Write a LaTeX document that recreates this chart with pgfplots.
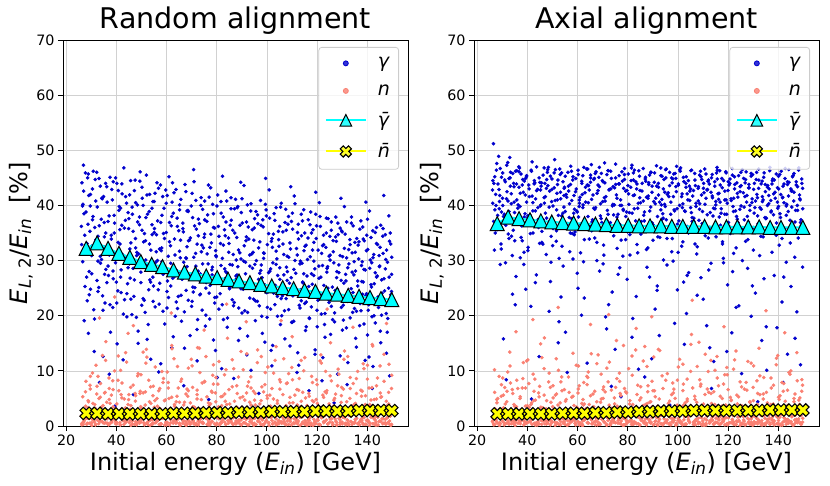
\documentclass[border=0pt]{standalone}
\usepackage{pgfplots}
\pgfplotsset{compat=1.18}
\usepackage{pgfplotstable}
\usepackage{fontspec}
\setmainfont{DejaVu Sans}
\definecolor{gblue}{HTML}{0000CD}
\definecolor{nsalmon}{HTML}{FA8072}
\definecolor{tcyan}{HTML}{00FFFF}
\definecolor{xyellow}{HTML}{FFFF00}

\pgfdeclareplotmark{mtri}{%
 \pgfpathmoveto{\pgfqpoint{0pt}{\pgfplotmarksize}}%
 \pgfpathlineto{\pgfqpoint{-\pgfplotmarksize}{-\pgfplotmarksize}}%
 \pgfpathlineto{\pgfqpoint{\pgfplotmarksize}{-\pgfplotmarksize}}%
 \pgfpathclose\pgfusepathqfillstroke}
\pgfdeclareplotmark{mX}{%
 \pgfpathmoveto{\pgfqpoint{0pt}{0.509\pgfplotmarksize}}%
 \pgfpathlineto{\pgfqpoint{-0.4525\pgfplotmarksize}{0.9617\pgfplotmarksize}}%
 \pgfpathlineto{\pgfqpoint{-0.9617\pgfplotmarksize}{0.4525\pgfplotmarksize}}%
 \pgfpathlineto{\pgfqpoint{-0.509\pgfplotmarksize}{0pt}}%
 \pgfpathlineto{\pgfqpoint{-0.9617\pgfplotmarksize}{-0.4525\pgfplotmarksize}}%
 \pgfpathlineto{\pgfqpoint{-0.4525\pgfplotmarksize}{-0.9617\pgfplotmarksize}}%
 \pgfpathlineto{\pgfqpoint{0pt}{-0.509\pgfplotmarksize}}%
 \pgfpathlineto{\pgfqpoint{0.4525\pgfplotmarksize}{-0.9617\pgfplotmarksize}}%
 \pgfpathlineto{\pgfqpoint{0.9617\pgfplotmarksize}{-0.4525\pgfplotmarksize}}%
 \pgfpathlineto{\pgfqpoint{0.509\pgfplotmarksize}{0pt}}%
 \pgfpathlineto{\pgfqpoint{0.9617\pgfplotmarksize}{0.4525\pgfplotmarksize}}%
 \pgfpathlineto{\pgfqpoint{0.4525\pgfplotmarksize}{0.9617\pgfplotmarksize}}%
 \pgfpathclose\pgfusepathqfillstroke}

\pgfplotstableread{
x gL gR nL nR
26.3 44.1 44.5 0.2 1.0
27.1 38.5 39.2 0.9 0.3
27.8 31.2 47.6 3.6 4.8
28.4 22.7 36.1 0.5 1.7
29.0 41.8 41.8 1.4 0.6
29.5 35.3 33.0 7.4 2.6
30.2 27.6 45.9 0.1 8.7
30.8 46.2 38.4 2.3 0.2
31.3 19.4 29.6 0.7 1.3
31.9 33.8 42.5 11.0 6.3
32.4 39.7 34.8 1.1 0.9
33.0 25.1 48.7 0.4 13.4
33.6 43.5 40.3 5.2 0.4
34.1 30.2 23.9 1.8 2.0
34.7 12.6 43.4 0.6 3.9
35.2 36.9 37.2 2.9 0.7
35.8 28.4 46.3 15.3 1.5
26.9 47.3 31.9 0.3 10.2
28.9 16.8 40.7 4.4 0.1
30.5 37.4 15.8 1.2 5.6
32.7 29.9 44.9 9.0 2.4
34.4 41.2 35.5 0.8 0.8
35.5 22.3 27.1 6.1 17.1
27.4 34.6 42.0 2.1 1.2
29.7 24.8 38.8 0.5 3.0
31.6 44.7 8.4 3.2 0.5
33.3 7.9 46.0 19.6 7.8
35.0 32.5 33.6 1.6 2.2
26.5 39.9 51.2 0.6 0.4
28.6 45.0 48.9 2.7 1.9
36.3 40.6 40.1 1.3 0.5
36.9 27.3 46.8 0.2 2.8
37.5 45.1 34.2 4.1 0.9
38.0 33.9 43.7 0.8 6.9
38.6 21.5 29.3 8.2 0.2
39.1 38.2 38.5 1.9 1.6
39.7 29.6 45.2 0.4 11.8
40.3 14.9 32.4 2.6 0.7
40.8 42.7 41.6 12.7 3.4
41.4 35.6 21.7 0.6 1.1
41.9 24.2 47.9 5.7 0.3
42.5 31.1 36.9 1.0 4.6
43.0 46.8 44.1 0.3 8.5
43.6 37.3 27.4 3.3 0.6
44.2 19.8 39.6 0.9 2.1
44.7 28.7 12.6 16.8 0.4
45.3 41.9 42.8 1.5 14.9
45.8 33.2 35.3 0.1 1.8
37.2 9.4 30.5 6.8 5.3
38.8 44.3 44.4 2.2 0.8
40.0 26.1 37.7 0.7 3.7
41.7 39.5 4.9 10.1 1.4
43.3 22.9 41.2 1.2 0.1
44.9 35.8 33.1 4.8 7.2
36.6 31.7 47.0 0.5 2.5
39.4 3.6 24.8 23.4 0.6
42.2 43.9 39.0 1.7 19.3
45.5 26.8 43.5 3.0 1.0
46.4 38.4 37.4 0.4 1.2
47.0 23.5 44.0 1.6 0.4
47.5 44.6 31.1 5.9 3.1
48.1 30.9 46.5 0.2 0.9
48.7 17.2 39.7 2.7 9.6
49.2 36.5 26.2 0.9 0.2
49.8 27.9 42.9 9.3 2.3
50.3 41.3 35.8 1.3 5.1
50.9 33.4 48.3 0.6 0.7
51.5 20.6 33.5 3.8 12.2
52.0 45.5 41.0 13.9 1.5
52.6 29.3 18.9 0.3 0.3
53.1 38.9 45.6 2.0 4.2
53.7 12.1 38.1 7.1 1.9
54.3 34.7 29.0 1.1 0.5
54.8 25.4 43.3 0.5 6.6
55.4 42.2 36.6 4.6 2.7
55.9 31.6 9.7 1.8 0.1
46.8 5.7 40.4 18.2 16.0
48.4 40.1 46.9 0.7 1.1
50.1 21.9 32.7 2.4 3.5
51.8 37.8 42.2 11.4 0.6
53.4 26.5 23.4 0.1 8.0
55.1 35.1 38.9 3.4 1.3
47.7 32.3 44.7 0.8 0.4
49.5 46.1 34.4 6.3 2.0
52.3 15.7 15.1 1.5 21.5
54.6 40.7 41.8 0.4 0.8
56.5 37.2 42.6 1.0 0.3
57.1 22.1 35.0 0.3 2.2
57.6 43.7 46.2 3.1 0.8
58.2 29.8 30.3 1.4 5.4
58.8 34.9 39.3 8.6 1.0
59.3 18.5 44.9 0.2 0.2
59.9 40.4 27.7 2.1 3.3
60.4 26.3 37.9 0.6 10.9
61.0 45.2 41.5 5.0 0.6
61.6 32.7 20.1 1.2 1.7
62.1 14.2 45.4 14.6 0.1
62.7 38.6 33.8 0.5 4.0
63.2 27.1 40.6 3.9 1.4
63.8 42.9 11.4 0.9 7.5
64.4 21.3 43.6 10.8 0.5
64.9 35.4 36.3 1.7 2.9
65.5 30.5 47.4 0.1 13.1
56.9 9.8 31.6 6.4 0.9
58.5 41.6 38.6 2.5 1.8
60.2 24.4 25.0 0.7 6.0
61.9 36.3 42.0 20.5 0.3
63.5 19.9 2.7 1.3 2.6
65.2 39.2 44.2 4.3 18.4
57.9 31.8 34.9 0.4 1.2
60.7 2.4 39.8 7.9 0.4
62.4 44.1 29.8 1.9 3.8
64.1 28.2 46.6 0.6 8.8
65.8 23.7 37.0 2.8 1.6
66.5 36.8 39.5 0.5 0.7
67.1 20.7 45.8 2.2 0.2
67.7 42.5 33.3 0.8 4.4
68.2 28.9 42.7 6.7 1.3
68.8 33.6 28.1 1.0 0.5
69.4 16.4 37.6 0.3 9.4
69.9 39.9 44.5 12.1 2.0
70.5 25.2 31.0 3.5 0.8
71.0 44.3 40.8 0.6 6.2
71.6 31.3 17.6 1.6 0.1
72.2 11.8 46.3 4.9 1.9
72.7 37.5 35.7 0.2 11.6
73.3 23.8 43.0 9.7 0.4
73.8 41.4 24.3 1.4 3.2
74.4 29.4 38.3 0.7 1.1
75.0 34.2 13.9 17.4 0.6
75.5 18.1 41.9 2.6 15.5
66.9 7.3 34.1 0.9 2.8
68.5 39.1 45.1 5.4 0.3
70.2 22.6 29.4 1.1 5.0
71.9 35.7 39.1 0.4 1.5
73.5 27.6 7.2 3.0 0.9
75.2 40.8 43.8 8.1 7.0
67.9 30.4 36.4 0.1 0.2
70.8 46.5 47.7 1.8 2.4
72.4 19.3 22.0 14.2 20.2
74.1 32.8 40.2 0.6 1.0
75.8 26.0 32.2 2.3 3.6
76.4 38.3 43.9 1.2 1.4
77.0 24.1 36.5 0.4 0.5
77.6 43.2 40.0 4.0 2.9
78.1 28.3 30.8 0.8 0.1
78.7 15.6 45.6 7.6 6.8
79.2 35.9 38.0 1.5 1.2
79.8 30.7 26.6 0.2 0.6
80.4 41.9 42.1 2.9 10.4
80.9 21.2 34.7 11.7 1.7
81.5 33.1 46.8 0.6 0.3
82.0 10.4 19.5 3.7 3.9
82.6 37.9 39.4 1.3 0.8
83.2 26.7 44.3 5.8 13.8
83.7 42.6 32.9 0.3 2.1
84.3 19.6 10.3 15.9 0.4
84.8 31.5 41.4 1.0 4.7
85.4 36.4 37.1 2.4 1.0
76.8 4.8 28.7 0.7 8.1
78.4 40.2 43.1 9.2 0.2
80.0 23.4 35.2 1.9 2.5
81.7 29.1 47.3 0.5 0.7
83.4 34.5 23.5 4.5 17.7
85.1 24.9 40.5 1.1 1.3
77.3 32.4 5.3 0.2 5.5
79.5 13.7 38.8 6.0 0.9
82.3 45.3 44.6 2.0 0.3
84.0 27.8 31.4 22.1 3.0
85.7 39.4 36.0 0.9 1.8
86.4 35.5 38.2 0.3 0.6
87.0 22.4 44.8 1.7 2.3
87.5 41.1 32.0 0.6 0.2
88.1 27.4 41.3 3.4 7.3
88.7 31.9 27.0 8.9 1.1
89.2 17.7 46.0 1.1 0.5
89.8 38.7 36.8 0.2 3.5
90.4 25.6 40.7 5.3 12.5
90.9 43.6 21.2 1.4 0.8
91.5 29.7 43.5 0.5 1.6
92.0 12.9 34.3 13.1 0.1
92.6 36.1 16.4 2.5 4.9
93.2 23.2 39.2 0.8 1.9
93.7 40.3 45.3 6.9 9.1
94.3 28.6 30.1 1.6 0.4
94.8 33.7 42.4 0.1 2.7
95.4 19.1 37.4 3.8 0.9
86.8 8.6 8.9 10.4 14.4
88.4 39.8 44.1 0.7 1.2
90.1 20.5 33.7 2.2 6.4
91.8 34.3 25.4 18.9 0.3
93.4 26.2 40.1 1.2 2.0
95.1 37.6 46.5 4.7 0.7
87.8 30.1 35.9 0.4 4.1
89.6 44.2 12.2 1.9 19.8
92.3 16.3 41.9 7.2 1.4
94.0 31.2 38.5 0.6 0.2
95.7 24.6 29.2 2.7 3.1
96.4 36.7 41.6 0.9 0.4
97.0 21.8 35.3 2.8 1.5
97.5 40.9 45.0 0.3 5.7
98.1 26.9 29.9 1.2 0.7
98.7 31.4 39.0 6.2 2.2
99.2 15.2 43.4 0.5 0.1
99.8 38.1 24.7 1.6 8.3
100.4 24.3 37.2 10.7 1.2
100.9 42.8 46.2 0.1 0.6
101.5 28.5 32.6 3.6 3.4
102.0 10.9 40.3 1.0 11.2
102.6 34.8 14.8 4.9 0.3
103.2 22.0 44.0 0.7 1.8
103.7 39.6 36.2 14.4 4.5
104.3 27.3 27.8 2.0 0.9
104.8 32.6 42.6 0.4 2.6
105.4 18.4 38.7 8.0 16.6
96.8 5.9 3.8 1.4 0.5
98.4 37.4 45.7 0.2 6.7
100.1 19.7 31.5 5.5 1.0
101.8 33.5 39.6 1.8 0.2
103.4 25.5 20.4 0.6 2.9
105.1 36.2 43.0 3.1 9.9
97.8 29.2 34.0 12.6 1.3
99.5 44.9 47.1 0.8 0.4
102.3 14.6 26.1 2.3 3.8
104.0 30.3 41.0 0.3 1.7
105.7 23.1 37.8 19.1 22.8
106.4 35.2 37.7 1.5 0.8
107.0 20.9 43.6 0.4 0.2
107.5 39.3 31.2 3.3 4.3
108.1 26.4 40.8 0.9 1.4
108.7 30.6 45.5 9.5 0.6
109.2 14.5 26.9 1.1 7.6
109.8 37.1 38.9 0.2 2.4
110.4 23.6 42.3 4.2 0.1
110.9 41.7 34.5 1.3 13.0
111.5 27.7 18.2 0.6 1.1
112.0 9.7 44.4 6.6 3.0
112.6 33.9 36.0 2.4 0.5
113.2 21.4 29.5 0.1 5.9
113.7 38.4 41.7 11.9 1.6
114.3 26.1 11.7 1.7 0.3
114.8 31.8 39.4 0.5 10.1
115.4 17.3 45.9 5.1 2.0
106.8 3.1 33.0 0.8 0.9
108.4 36.6 37.3 2.6 15.2
110.1 18.8 23.0 16.2 0.4
111.8 32.2 42.9 1.0 3.3
113.4 24.7 6.8 3.5 1.2
115.1 35.0 40.1 0.3 0.7
107.8 28.8 35.6 7.7 2.8
109.5 43.4 44.7 1.4 0.2
112.3 13.3 28.3 0.7 6.1
114.0 29.5 38.1 2.9 1.8
115.7 22.5 46.4 0.2 8.7
116.4 34.1 42.2 0.6 1.1
117.0 19.5 36.4 2.1 0.4
117.5 38.8 44.9 0.2 3.6
118.1 25.7 30.4 4.6 0.8
118.7 29.9 38.4 1.2 9.3
119.2 13.8 41.0 0.5 1.5
119.8 36.3 25.6 8.4 0.2
120.4 22.8 43.7 1.7 2.3
120.9 40.5 34.9 0.3 5.2
121.5 27.0 16.9 12.9 0.6
122.0 8.2 39.8 3.0 1.9
122.6 32.9 45.2 0.8 12.0
123.2 20.4 32.3 1.9 0.3
123.7 37.7 37.5 6.0 4.0
124.3 25.0 21.8 0.4 1.0
124.8 30.8 42.5 2.5 0.1
125.4 16.6 9.5 15.1 7.1
116.8 6.4 40.6 1.0 1.7
118.4 35.6 35.1 0.1 18.0
120.1 18.0 44.3 4.1 0.5
121.8 31.3 28.0 1.5 2.8
123.4 23.9 38.0 9.9 0.9
125.1 34.4 46.0 0.7 3.7
117.8 27.6 33.4 2.2 1.3
119.5 42.4 13.5 0.4 10.6
122.3 12.4 41.3 5.6 0.7
124.0 28.6 36.9 21.2 2.2
125.7 21.7 30.0 1.3 0.4
126.4 33.6 39.7 0.3 0.9
126.8 4.2 44.1 1.8 2.5
127.0 18.9 33.5 5.0 0.2
127.5 37.9 41.8 0.9 6.5
127.8 26.9 28.6 0.1 1.4
128.1 24.8 37.0 3.2 0.6
128.4 34.7 43.2 10.3 3.1
128.7 29.2 35.4 1.4 0.3
129.2 12.7 19.9 0.6 11.4
129.5 41.3 40.5 2.7 1.6
129.8 35.4 45.6 7.0 0.1
130.1 17.4 31.9 0.4 4.6
130.4 21.9 38.6 1.6 0.8
130.9 39.8 24.1 13.6 2.0
131.5 26.3 42.0 0.2 8.2
131.8 30.5 4.4 4.4 0.4
132.0 7.5 36.7 1.1 1.2
132.3 11.5 44.6 0.5 14.1
132.6 32.0 30.9 2.3 0.7
133.2 19.6 39.3 8.8 3.4
133.4 23.0 15.5 0.8 1.0
133.7 36.8 41.6 1.9 0.2
134.0 27.9 34.3 0.3 5.8
134.3 24.2 26.7 17.9 1.9
134.8 29.8 43.8 3.6 0.5
135.1 33.3 37.6 0.7 20.9
135.4 15.9 10.1 1.2 2.7
135.7 20.8 40.0 5.9 0.9
136.4 32.8 43.0 0.5 1.3
136.8 2.9 36.2 2.4 0.3
137.0 18.2 40.9 0.2 3.9
137.5 37.2 31.5 6.5 1.1
137.8 26.2 44.8 1.0 0.6
138.1 23.9 38.3 0.6 7.4
138.4 33.9 27.3 11.3 0.2
138.7 28.4 42.4 1.5 2.4
139.2 11.9 34.6 3.9 1.8
139.5 40.6 17.8 0.3 0.4
139.8 34.6 39.5 2.0 12.8
140.1 16.5 45.3 8.5 1.0
140.4 21.0 32.8 0.9 4.8
140.9 39.0 37.8 0.1 0.1
141.5 25.6 22.5 4.7 2.1
141.8 29.6 41.5 1.7 0.7
142.0 6.8 7.9 14.8 6.3
142.3 10.8 43.9 0.4 1.5
142.6 31.1 35.8 2.6 16.9
143.2 18.7 29.7 1.1 0.3
143.4 22.1 40.2 0.7 3.2
143.7 36.0 13.0 7.3 1.2
144.0 27.2 38.9 1.9 0.5
144.3 23.4 44.2 0.2 9.7
144.8 28.9 33.2 3.4 2.6
145.1 32.4 25.3 10.9 0.8
145.4 15.1 42.7 0.8 1.7
145.7 20.1 36.5 5.3 0.2
146.3 35.8 45.8 1.3 4.4
146.6 41.8 30.6 0.5 1.1
146.9 24.5 39.1 2.9 0.6
147.4 30.2 20.7 0.3 13.3
147.7 13.2 43.4 18.6 2.3
148.0 17.0 34.1 1.6 0.9
148.6 38.1 41.2 4.0 5.1
148.9 9.1 11.1 0.9 0.4
149.1 22.7 37.4 2.2 1.9
149.4 33.0 44.0 0.1 8.4
149.7 27.5 28.8 6.8 0.7
}\scatterdata

\pgfplotstableread{
x gL gR nL nR
26.1 36.2 42.8 1.9 0.8
26.6 29.8 37.1 5.3 2.9
27.0 42.6 45.2 0.7 6.1
27.5 25.3 40.0 3.0 1.1
27.9 38.8 35.6 8.1 4.2
28.3 33.1 43.9 1.4 0.5
28.8 45.7 39.4 4.6 9.0
29.2 28.0 46.7 0.5 2.0
29.6 39.9 32.1 6.7 5.4
30.1 32.6 41.3 2.4 0.9
30.5 43.0 38.0 9.6 3.3
31.0 21.1 44.6 1.0 7.0
31.4 36.0 36.4 3.9 1.6
31.8 40.8 47.3 0.3 4.4
32.3 26.4 40.8 7.2 0.6
32.7 34.4 34.0 2.0 2.7
33.1 44.9 45.0 5.0 10.9
33.6 30.8 42.1 0.9 1.3
34.0 37.5 30.9 3.4 6.6
34.5 23.6 44.0 12.8 0.4
34.9 41.6 38.7 1.5 3.6
35.3 27.5 46.2 6.0 1.0
35.8 35.0 41.0 0.6 8.3
36.2 43.4 36.8 4.3 2.3
36.7 29.0 43.3 2.5 0.7
37.1 38.1 39.8 8.7 5.0
37.5 22.0 45.7 0.4 1.8
38.0 34.6 33.6 5.6 3.0
38.4 41.0 42.4 1.2 11.5
38.8 26.7 37.9 3.5 0.3
39.3 36.8 44.9 10.0 6.9
39.7 31.4 40.6 0.8 1.4
40.2 44.0 31.8 4.0 2.5
40.6 24.5 43.7 1.7 7.7
41.0 39.1 38.3 6.4 0.8
41.5 33.0 46.4 0.2 3.9
41.9 28.3 41.7 2.9 1.2
42.3 42.1 35.0 7.8 9.4
42.8 20.3 44.5 1.3 0.5
43.2 35.9 39.0 4.9 4.7
43.7 30.2 47.0 0.6 2.1
44.1 40.4 42.9 11.6 0.2
44.5 25.8 36.0 2.3 6.0
45.0 37.6 44.2 5.7 1.5
45.4 32.1 40.1 1.1 3.4
45.8 23.0 33.3 3.7 12.4
46.3 39.7 45.5 0.9 0.9
46.7 28.6 41.4 7.4 5.6
47.2 42.7 38.6 1.6 1.9
47.6 34.0 43.1 4.5 0.4
48.0 19.7 46.0 0.4 2.8
48.5 37.0 37.0 9.1 8.0
48.9 31.2 42.6 2.2 1.1
49.4 44.4 29.7 5.9 4.3
49.8 26.0 44.8 0.7 0.6
50.2 35.5 39.9 3.2 7.3
50.7 40.0 45.9 13.4 2.4
51.1 22.8 40.9 1.4 0.1
51.6 33.6 35.4 6.2 5.8
52.0 29.1 43.8 0.5 1.7
52.4 38.4 38.2 2.8 10.1
52.9 24.7 46.6 8.3 3.1
53.3 42.0 41.2 1.0 0.8
53.8 31.9 32.6 4.1 6.4
54.2 36.5 44.3 0.3 1.3
54.6 27.0 39.7 5.5 2.6
55.1 40.7 45.3 2.1 0.3
55.5 21.6 42.0 10.7 4.8
56.0 34.7 36.7 0.8 1.0
56.4 30.0 43.5 3.6 8.9
56.8 43.1 40.3 1.2 2.2
57.3 25.9 47.1 6.8 0.7
57.7 36.9 37.6 0.4 5.2
58.1 32.3 44.6 2.6 1.4
58.6 20.8 41.8 7.9 3.7
59.0 39.5 35.2 1.5 0.5
59.5 28.4 43.0 4.7 11.0
59.9 35.1 38.8 0.2 1.6
60.3 41.8 45.6 9.8 6.7
60.8 23.3 40.4 1.8 0.2
61.2 33.4 31.4 3.1 2.9
61.7 29.5 44.0 0.6 4.1
62.1 38.0 39.6 5.2 0.9
62.5 26.8 46.9 2.0 7.9
63.0 42.3 42.3 12.2 1.2
63.4 31.0 36.1 0.9 3.2
63.9 22.5 43.7 4.4 0.6
64.3 36.2 40.5 1.3 9.8
64.7 27.9 33.9 6.9 2.0
65.2 40.1 45.0 0.5 5.5
65.6 33.7 41.1 2.7 1.1
66.0 19.0 37.4 8.5 0.4
66.5 35.8 44.7 1.1 3.5
66.9 29.7 39.3 3.8 6.3
67.4 43.8 46.1 0.3 1.5
67.8 24.6 42.2 5.8 0.8
68.2 32.5 35.8 1.9 12.9
68.7 38.9 43.4 10.5 2.7
69.1 27.3 38.1 0.7 0.3
69.5 34.1 45.8 4.2 4.9
70.0 21.7 40.7 1.6 1.8
70.4 37.8 32.8 7.0 7.1
70.9 30.6 44.1 0.4 0.6
71.3 25.1 41.6 3.3 2.5
71.7 40.9 37.3 2.4 10.5
72.2 33.0 46.3 6.5 1.0
72.6 28.1 42.8 0.9 3.8
73.1 36.7 36.9 14.1 0.2
73.5 23.9 44.9 1.2 6.5
73.9 31.6 39.9 4.8 1.7
74.4 39.3 34.5 0.5 0.7
74.8 26.2 43.2 2.9 4.0
75.2 34.8 47.5 8.0 2.3
75.7 20.1 41.3 1.4 8.6
76.1 37.1 38.4 5.3 0.5
76.6 29.4 45.4 0.2 1.3
77.0 41.5 40.0 3.7 5.9
77.4 25.5 33.7 1.7 0.9
77.9 33.2 44.4 6.3 3.0
78.3 28.8 39.1 0.8 14.6
78.7 36.0 46.7 11.1 1.4
79.2 22.3 42.6 2.1 0.3
79.6 31.8 36.3 4.4 6.0
80.1 39.9 43.6 0.5 2.4
80.5 27.1 40.2 7.6 0.8
80.9 34.4 31.0 1.3 4.6
81.4 24.0 44.5 3.0 1.1
81.8 38.6 38.6 0.6 9.2
82.3 30.4 45.9 5.4 0.6
82.7 19.3 41.9 1.8 3.3
83.1 35.6 35.5 9.3 1.9
83.6 28.0 43.0 0.3 0.4
84.0 40.8 39.5 3.9 7.4
84.4 25.7 46.3 1.0 2.6
84.9 33.1 42.7 6.6 0.2
85.3 29.3 34.8 2.3 5.1
85.8 37.3 44.0 0.7 1.5
86.2 22.9 40.8 12.0 11.8
86.6 31.1 37.2 1.5 0.9
87.1 39.4 45.1 4.5 3.9
87.5 26.5 41.5 0.4 0.5
88.0 34.2 32.3 7.3 6.2
88.4 28.9 43.8 2.0 1.2
88.8 21.4 39.0 0.9 4.3
89.3 36.4 46.0 5.1 0.7
89.7 30.3 42.4 1.1 8.1
90.1 41.2 36.5 3.4 2.1
90.6 24.8 44.2 10.2 0.3
91.0 32.7 40.3 0.6 5.3
91.5 27.6 47.2 2.6 1.6
91.9 37.0 38.0 6.0 3.6
92.3 20.6 43.3 1.4 0.8
92.8 33.9 34.2 0.2 13.7
93.2 29.0 45.4 4.3 2.0
93.6 39.0 41.1 8.9 0.4
94.1 25.0 37.7 1.2 6.8
94.5 31.5 44.7 3.1 1.3
95.0 35.9 39.8 0.5 3.1
95.4 22.7 46.6 5.9 0.6
95.8 30.0 42.0 1.9 9.5
96.3 38.3 35.7 13.8 1.8
96.7 26.6 43.6 0.8 4.5
97.2 33.4 40.6 4.0 0.2
97.6 28.2 31.6 1.6 2.8
98.0 19.9 44.8 7.1 7.8
98.5 36.1 39.2 0.3 1.0
98.9 31.3 45.8 2.9 5.0
99.4 40.2 42.5 9.7 0.5
99.8 24.2 36.6 1.0 3.5
100.2 32.9 43.9 5.0 1.4
100.7 27.8 40.0 0.6 12.1
101.1 37.7 46.8 3.5 2.2
101.5 21.2 41.6 1.7 0.7
102.0 34.0 33.4 6.8 6.4
102.4 29.6 44.3 0.4 1.1
102.9 38.5 38.9 2.2 4.2
103.3 25.3 45.2 11.9 0.3
103.7 31.7 42.1 1.3 8.5
104.2 23.5 35.0 4.6 1.7
104.6 35.3 43.5 0.7 0.8
105.1 28.7 39.6 8.4 3.7
105.5 39.7 46.4 2.0 2.0
105.9 20.0 41.7 0.5 6.9
106.4 33.0 37.1 5.7 0.6
106.8 27.4 44.6 1.1 4.8
107.2 36.9 40.4 3.3 1.2
107.7 23.1 32.5 0.2 10.8
108.1 30.8 43.1 7.8 0.4
108.6 38.0 39.3 1.5 2.9
109.0 25.9 46.2 4.2 7.2
109.4 32.1 41.9 0.8 1.5
109.9 18.8 36.4 10.6 0.9
110.3 35.7 44.0 2.7 3.4
110.8 28.4 40.2 0.4 5.7
111.2 40.3 45.7 5.6 0.2
111.6 24.4 42.8 1.4 1.8
112.1 31.0 34.1 3.8 9.9
112.5 36.6 43.9 0.9 2.4
112.9 21.9 38.7 8.6 0.7
113.4 29.9 45.0 1.8 4.1
113.8 34.5 41.4 0.3 1.0
114.3 26.0 35.8 6.1 6.2
114.7 39.2 44.3 2.4 0.5
115.1 22.2 40.7 12.4 3.1
115.6 32.8 46.9 0.7 12.6
116.0 27.2 42.1 3.7 1.3
116.5 37.4 37.9 1.2 0.3
116.9 19.6 43.7 5.4 5.4
117.3 30.7 39.4 0.5 2.1
117.8 35.0 33.0 9.0 0.8
118.2 24.3 44.5 1.9 7.6
118.7 33.3 41.0 4.4 1.4
119.1 28.5 46.1 0.6 3.8
119.5 38.4 38.4 2.5 0.4
120.0 21.0 42.7 7.5 6.6
120.4 31.9 36.2 1.0 1.9
120.8 26.8 44.8 3.2 0.6
121.3 36.2 40.9 0.2 4.7
121.7 23.7 45.5 11.4 1.1
122.2 29.1 31.3 1.6 10.3
122.6 34.6 43.0 5.2 2.7
123.0 18.4 39.0 0.8 0.2
123.5 32.4 44.1 2.8 5.6
123.9 27.9 41.5 6.4 1.6
124.4 37.6 35.1 0.4 0.9
124.8 22.4 43.4 4.0 8.0
125.2 30.1 39.9 1.3 3.0
125.7 35.5 46.5 8.2 0.5
126.1 25.2 42.3 0.6 1.7
126.5 31.6 37.4 3.6 6.7
127.0 20.5 44.7 1.7 0.3
127.4 34.3 40.6 5.8 2.6
127.9 28.0 33.8 0.3 11.7
128.3 36.8 43.8 2.3 1.2
128.7 23.2 39.1 9.4 4.4
129.2 30.9 45.3 1.1 0.7
129.6 26.4 41.2 4.3 2.3
130.0 35.2 36.0 0.7 7.0
130.5 19.2 44.0 6.7 0.4
130.9 32.2 40.8 1.5 3.6
131.4 27.5 46.0 3.0 1.4
131.8 37.0 38.1 0.4 5.9
132.2 22.6 43.1 12.6 0.8
132.7 29.4 39.6 1.9 9.1
133.1 33.8 34.4 5.0 1.9
133.6 24.9 44.4 0.8 0.5
134.0 31.4 41.0 2.6 4.9
134.4 36.3 45.9 7.7 2.5
134.9 21.3 42.5 0.5 0.2
135.3 28.1 37.7 4.1 6.1
135.8 34.0 43.6 1.4 1.2
136.2 25.4 40.3 9.9 3.3
136.6 30.3 46.3 0.6 0.6
137.1 35.7 38.8 3.4 8.7
137.5 20.9 43.9 1.2 1.5
138.0 29.8 35.4 6.3 4.0
138.4 26.1 44.6 0.3 0.9
138.8 33.6 41.3 2.1 2.8
139.3 23.6 36.8 5.5 12.3
139.7 31.8 43.2 1.0 0.4
140.1 37.5 39.8 11.0 5.2
140.6 22.0 45.6 0.7 1.6
141.0 28.6 42.0 3.9 0.3
141.5 34.2 34.0 1.6 7.9
141.9 19.8 43.5 7.0 2.2
142.3 30.5 40.5 0.4 0.8
142.8 25.8 46.7 4.8 4.5
143.2 35.1 38.2 1.8 1.1
143.7 27.0 44.3 0.2 6.5
144.1 32.9 41.7 8.7 0.5
144.5 21.5 35.6 2.4 3.4
145.0 29.0 43.0 0.9 10.0
145.4 36.4 39.7 5.2 1.7
145.9 24.1 45.4 1.3 0.2
146.3 31.3 42.4 3.1 5.0
146.7 26.7 37.0 13.0 2.0
147.2 34.7 43.7 0.6 0.7
147.6 20.4 40.0 4.5 8.2
148.1 29.7 46.4 1.5 1.3
148.5 25.0 41.9 6.1 3.9
148.9 33.5 36.9 0.3 0.6
149.4 23.8 44.8 2.7 6.3
149.8 30.6 39.4 9.2 1.4
}\scatterextra

\pgfplotstableread{
x gL gR nL nR
26.2 32.9 40.4 0.4 1.5
26.7 40.2 44.0 2.6 0.2
27.2 19.1 35.0 1.1 3.1
27.7 45.9 46.4 6.2 0.8
28.2 27.0 38.2 0.3 5.0
28.7 36.6 42.9 3.3 1.8
29.2 23.8 29.3 1.7 0.4
29.7 42.0 45.1 9.0 7.5
30.2 30.9 40.0 0.6 2.3
30.7 38.0 36.8 4.1 0.6
31.2 13.5 44.3 1.3 4.0
31.7 33.5 41.2 0.2 1.2
32.2 46.0 47.8 5.8 9.8
32.7 24.4 38.9 2.2 0.3
33.2 36.3 43.5 0.8 2.8
33.7 29.5 34.4 7.7 0.9
34.2 41.3 45.8 1.6 5.9
34.7 21.0 40.6 3.7 1.4
35.2 34.3 22.0 0.5 0.1
35.7 44.0 43.9 11.9 3.5
36.2 26.0 39.5 1.4 6.8
36.7 37.1 46.1 0.3 1.0
37.2 31.0 42.2 4.8 0.4
37.7 17.0 36.3 2.0 2.4
38.2 42.9 44.7 0.7 8.6
38.7 28.1 31.5 6.6 1.1
39.2 35.0 41.9 1.2 3.6
39.7 45.0 45.4 3.1 0.5
40.2 22.3 38.1 0.4 12.0
40.7 33.3 43.0 8.3 1.9
41.2 39.8 34.9 1.9 0.7
41.7 27.0 46.2 0.2 4.2
42.2 36.4 40.5 5.1 1.3
42.7 12.0 43.9 2.4 6.3
43.2 30.6 26.0 0.9 0.2
43.7 41.6 42.7 13.3 2.7
44.2 24.0 37.4 1.5 0.8
44.7 38.7 45.0 3.9 5.3
45.2 29.4 39.9 0.6 1.6
45.7 44.5 44.1 7.0 0.3
46.2 20.2 33.0 1.0 3.3
46.7 35.3 46.8 2.7 10.4
47.2 26.5 41.6 0.3 1.0
47.7 40.5 37.7 5.5 4.6
48.2 31.5 43.6 1.8 0.5
48.7 15.0 20.8 9.5 2.0
49.2 37.9 45.3 0.5 7.0
49.7 28.8 40.7 3.5 0.9
50.2 43.3 36.2 1.2 2.9
50.7 23.1 43.2 6.0 1.5
51.2 34.9 46.5 0.2 5.6
51.7 30.1 39.2 2.3 0.4
52.2 41.9 44.6 12.5 3.8
52.7 18.4 30.4 0.8 1.2
53.2 33.0 42.4 4.4 0.2
53.7 26.1 45.9 1.4 8.9
54.2 39.5 38.6 0.4 2.1
54.7 22.6 43.1 7.2 0.7
55.2 35.8 17.0 2.0 4.5
55.7 29.7 41.5 0.6 1.6
56.2 44.1 46.0 5.0 0.3
56.7 24.7 37.8 1.1 6.1
57.2 32.1 43.8 3.2 2.4
57.7 11.3 40.9 0.3 0.9
58.2 38.2 45.2 9.9 13.2
58.7 27.5 34.7 1.5 1.3
59.2 34.0 42.5 4.6 0.5
59.7 42.8 39.0 0.7 3.4
60.2 21.4 46.4 2.5 0.8
60.7 30.8 41.0 6.9 7.3
61.2 36.9 36.6 0.2 1.7
61.7 25.4 44.4 1.9 0.2
62.2 40.6 40.1 14.0 4.8
62.7 16.2 23.2 0.9 1.1
63.2 33.9 43.3 3.6 2.6
63.7 28.3 46.6 0.5 9.0
64.2 37.7 38.0 5.4 0.6
64.7 23.5 42.8 1.3 3.9
65.2 31.7 45.5 0.3 1.4
65.7 41.1 35.4 8.1 0.4
66.2 26.6 41.9 2.2 5.8
66.7 35.2 44.9 0.8 2.0
67.2 14.1 39.6 4.3 0.9
67.7 30.5 30.0 1.6 11.3
68.2 39.0 43.7 0.4 1.5
68.7 22.8 46.9 6.4 0.3
69.2 33.7 40.3 2.8 4.3
69.7 27.1 36.9 0.6 1.2
70.2 42.2 44.3 10.9 6.6
70.7 24.3 41.4 1.0 0.7
71.2 36.3 19.8 3.4 2.2
71.7 29.0 45.6 0.2 0.3
72.2 17.5 38.4 5.7 8.0
72.7 34.5 42.9 1.4 1.9
73.2 26.4 46.2 0.7 0.5
73.7 40.0 35.7 2.9 3.2
74.2 21.0 43.4 7.8 1.3
74.7 32.3 40.1 0.5 5.1
75.2 37.4 45.0 1.8 0.6
75.7 25.0 37.9 12.6 2.5
76.2 31.2 27.5 0.3 1.0
76.7 43.7 43.9 4.2 9.6
77.2 19.4 41.0 1.2 0.4
77.7 34.8 46.1 0.6 3.0
78.2 27.4 39.3 6.1 1.4
78.7 38.5 44.7 2.0 0.2
79.2 23.3 33.8 0.4 6.2
79.7 30.9 42.7 8.8 1.8
80.2 8.8 45.7 1.5 0.8
80.7 36.2 38.7 3.5 4.0
81.2 26.0 43.3 0.2 1.1
81.7 40.7 16.1 5.3 12.7
82.2 22.0 41.8 1.0 0.3
82.7 32.8 46.4 2.6 2.7
83.2 28.5 37.2 0.7 0.6
83.7 37.0 43.9 10.2 5.7
84.2 17.9 40.4 1.7 1.6
84.7 34.1 45.3 0.5 0.2
85.2 25.1 35.9 4.0 7.1
85.7 41.4 42.6 1.3 1.0
86.2 29.2 46.7 7.1 3.7
86.7 21.8 38.8 0.3 0.5
87.2 35.0 44.4 2.4 1.3
87.7 27.2 28.8 0.9 10.8
88.2 39.6 41.7 5.9 2.3
88.7 15.5 45.5 1.1 0.7
89.2 31.4 39.7 0.4 4.4
89.7 24.9 43.5 13.5 1.5
90.2 36.8 36.1 2.1 0.2
90.7 29.9 45.9 0.6 6.4
91.2 20.9 41.3 4.7 0.9
91.7 33.6 24.6 1.2 2.6
92.2 40.1 44.0 0.2 13.9
92.7 26.0 40.6 8.0 1.2
93.2 31.0 46.8 1.6 0.4
93.7 10.1 37.5 3.8 3.3
94.2 35.6 43.0 0.5 1.9
94.7 23.0 40.2 6.3 0.6
95.2 29.3 45.0 1.4 8.3
95.7 38.9 34.0 0.3 1.1
96.2 22.6 42.3 11.5 4.1
96.7 32.3 46.0 2.7 0.3
97.2 27.7 38.4 0.7 2.0
97.7 36.4 44.1 4.6 0.8
98.2 16.8 41.6 1.1 6.0
98.7 30.4 18.6 0.2 1.5
99.2 25.6 44.9 7.5 0.2
99.7 39.2 39.4 1.7 3.8
100.2 21.5 43.7 3.0 10.7
100.7 34.9 46.5 0.6 1.0
101.2 28.1 36.4 5.6 0.5
101.7 13.7 42.1 1.5 2.9
102.2 32.4 45.1 0.4 7.6
102.7 24.1 39.0 9.6 1.7
103.2 37.3 43.3 1.9 0.4
103.7 29.3 27.3 0.2 4.9
104.2 19.9 44.5 4.1 1.2
104.7 33.8 40.9 1.0 0.6
105.2 26.6 46.3 6.7 14.8
105.7 40.4 37.1 0.8 2.2
106.2 23.6 42.7 2.3 0.3
106.7 31.1 45.8 12.2 5.4
107.2 15.8 39.8 0.5 1.0
107.7 35.5 23.7 3.7 3.2
108.2 28.0 43.4 1.4 0.7
108.7 21.1 40.3 0.3 8.4
109.2 33.2 45.2 5.2 1.6
109.7 26.9 36.7 1.8 0.2
110.2 38.6 43.1 8.4 4.0
110.7 19.0 46.6 0.6 1.3
111.2 30.0 41.3 2.9 0.5
111.7 24.8 38.3 1.2 6.7
112.2 35.1 44.6 0.4 2.5
112.7 11.0 14.2 6.5 0.9
113.2 29.4 42.4 1.6 11.9
113.7 22.7 45.6 4.5 1.1
114.2 37.2 39.5 0.7 0.3
114.7 27.6 43.5 10.0 3.9
115.2 32.6 34.3 1.0 1.4
115.7 18.0 44.8 3.2 0.6
116.2 30.2 41.1 0.2 7.3
116.7 25.3 46.3 5.9 2.2
117.2 36.5 38.6 1.5 0.4
117.7 21.6 43.2 0.5 5.0
118.2 31.9 29.6 7.9 1.0
118.7 27.3 42.6 2.2 0.2
119.2 13.0 45.9 0.8 3.5
119.7 34.0 40.4 4.8 9.3
120.2 23.4 36.9 1.2 1.5
120.7 29.0 44.0 0.3 0.6
121.2 38.0 41.2 11.8 4.6
121.7 20.3 46.7 1.7 1.2
122.2 32.7 38.9 3.5 0.3
122.7 25.5 43.8 0.6 2.7
123.2 16.1 21.5 6.2 13.6
123.7 35.0 42.2 1.1 0.8
124.2 28.9 45.4 0.4 5.3
124.7 22.9 39.3 2.6 1.7
125.2 31.0 43.6 9.1 0.5
125.7 37.0 35.7 1.4 3.6
126.2 19.3 44.9 0.2 1.1
126.7 29.6 41.6 4.7 0.2
127.2 24.6 46.1 1.3 7.9
127.7 33.5 38.0 0.7 2.0
128.2 9.4 43.2 7.3 0.7
128.7 27.8 40.0 2.0 4.3
129.2 35.9 45.8 0.3 1.3
129.7 21.5 25.4 5.5 0.4
130.2 30.7 42.9 1.6 10.9
130.7 25.9 39.6 12.1 1.8
131.2 34.8 44.7 0.5 0.6
131.7 17.8 41.4 3.1 3.9
132.2 28.7 46.6 1.0 1.0
132.7 23.8 36.6 0.2 5.7
133.2 32.9 43.9 6.8 0.2
133.7 37.9 40.7 1.9 2.4
134.2 20.6 45.1 0.6 8.8
134.7 27.4 37.8 3.9 1.4
135.2 31.5 18.0 1.2 0.5
135.7 14.3 43.3 8.6 4.2
136.2 26.3 41.8 0.4 1.9
136.7 33.4 46.9 2.7 0.3
137.2 22.2 39.0 0.9 6.9
137.7 29.1 44.5 5.4 1.1
138.2 36.1 42.1 1.5 0.7
138.7 18.5 35.2 10.4 3.0
139.2 28.3 45.7 0.3 11.1
139.7 24.0 40.6 3.3 1.6
140.2 32.0 43.0 1.1 0.4
140.7 12.5 38.5 6.9 5.5
141.2 30.1 46.2 0.5 2.1
141.7 25.2 41.4 2.0 0.2
142.2 35.4 27.0 14.5 7.7
142.7 20.0 44.9 1.3 1.3
143.2 27.8 39.9 0.2 0.8
143.7 33.1 43.8 4.9 3.7
144.2 22.8 46.5 1.6 1.0
144.7 30.9 37.3 0.8 9.4
145.2 17.2 42.6 6.0 0.5
145.7 26.5 45.2 2.5 2.7
146.2 34.4 40.8 0.4 0.2
146.7 23.0 15.9 8.1 5.8
147.2 28.5 44.3 1.2 1.2
147.7 31.9 39.1 3.6 0.6
148.2 19.5 46.8 0.6 4.7
148.7 27.0 41.0 11.2 1.9
149.2 35.0 36.4 1.8 0.3
149.7 24.4 43.1 0.3 7.4
}\scatterthird

\pgfplotstableread{
x gbL gbR nbL nbR
28.00 32.2 36.7 2.3 2.2
32.35 33.2 37.9 2.3 2.2
36.70 32.2 37.6 2.2 2.2
41.05 31.3 37.4 2.2 2.2
45.40 30.6 37.2 2.2 2.2
49.75 29.8 37.0 2.2 2.2
54.10 29.3 36.9 2.2 2.3
58.45 28.9 36.8 2.2 2.3
62.80 28.3 36.7 2.3 2.3
67.15 27.9 36.6 2.3 2.4
71.50 27.6 36.5 2.3 2.4
75.85 27.2 36.4 2.4 2.5
80.20 26.9 36.4 2.4 2.5
84.55 26.6 36.3 2.4 2.6
88.90 26.3 36.3 2.5 2.6
93.25 26.0 36.3 2.5 2.7
97.60 25.7 36.2 2.5 2.7
101.95 25.4 36.2 2.6 2.7
106.30 25.1 36.2 2.6 2.8
110.65 24.9 36.2 2.6 2.8
115.00 24.6 36.1 2.6 2.8
119.35 24.4 36.1 2.7 2.8
123.70 24.1 36.1 2.7 2.8
128.05 23.9 36.1 2.7 2.8
132.40 23.7 36.1 2.7 2.8
136.75 23.5 36.0 2.8 2.9
141.10 23.3 36.0 2.8 2.9
145.45 23.1 36.0 2.8 2.9
149.80 22.9 36.0 2.8 2.9
}\meandata

\pgfplotsset{
  panel/.style={
    scale only axis, width=345pt, height=386pt,
    xmin=18.75, xmax=156.25, ymin=0, ymax=70,
    xtick={20,40,60,80,100,120,140}, ytick={0,10,20,30,40,50,60,70},
    xtick pos=bottom, ytick pos=left, tick align=outside,
    major tick length=5pt,
    tick style={black, line width=0.8pt},
    axis line style={line width=0.8pt},
    grid=major, grid style={color=black!18, line width=0.7pt},
    /pgf/number format/assume math mode=true,
    tick label style={font=\fontsize{14.3}{16}\selectfont},
    title style={font=\fontsize{28.5}{32}\selectfont, at={(axis description cs:0.5,1.0155)}, anchor=base},
    xlabel style={font=\fontsize{24}{28}\selectfont, at={(axis description cs:0.5,-0.114)}, anchor=base},
    ylabel style={font=\fontsize{24}{28}\selectfont, at={(axis description cs:-0.1043,0.5)}, anchor=base, rotate=0},
    xlabel={Initial energy (\textit{E}\textsubscript{\textit{in}}) [GeV]},
    ylabel={\textit{E}\textsubscript{\textit{L}, 2}/\textit{E}\textsubscript{\textit{in}}\ \ [\%]},
    clip marker paths=true,
    legend cell align=left,
    legend style={at={(axis description cs:0.974,0.982)}, anchor=north east,
      draw=black!20, line width=0.8pt, rounded corners=3pt, fill=white, fill opacity=0.8, text opacity=1,
      font=\fontsize{19}{22}\selectfont, inner xsep=6pt, inner ysep=8pt, row sep=11.5pt,
      /tikz/every odd column/.append style={column sep=9pt}},
    legend image code/.code={\path[draw=none,fill=none] (0pt,-8pt) rectangle (40pt,8pt);
      \draw[mark repeat=2,mark phase=2,##1,mark size=5.8pt] plot coordinates {(0pt,0pt) (20pt,0pt) (40pt,0pt)};},
  },
  gsc/.style={only marks, mark=*, mark size=1.6pt, color=gblue, draw=gblue, fill=gblue,
    legend image code/.code={\path[draw=none,fill=none] (0pt,-8pt) rectangle (40pt,8pt);
      \draw[##1,mark size=2.5pt] plot coordinates {(20pt,0pt)};}},
  nsc/.style={only marks, mark=*, mark size=1.6pt, color=nsalmon, draw=nsalmon, fill=nsalmon,
    legend image code/.code={\path[draw=none,fill=none] (0pt,-8pt) rectangle (40pt,8pt);
      \draw[##1,mark size=2.5pt] plot coordinates {(20pt,0pt)};}},
  gmean/.style={color=tcyan, draw=tcyan, line width=2pt, mark=mtri, mark size=7pt,
    mark options={fill=tcyan, draw=black, line width=1pt, solid}},
  nmean/.style={color=xyellow, draw=xyellow, line width=2pt, mark=mX, mark size=6.5pt,
    mark options={fill=xyellow, draw=black, line width=1.1pt, solid}},
}

\begin{document}
\begin{tikzpicture}
\path[use as bounding box] (0,0) rectangle (830pt,485pt);
\begin{axis}[panel, at={(63pt,59pt)}, anchor=south west, title={Random alignment}]
\addplot[gsc] table[x=x, y=gL] {\scatterdata};
\addlegendentry{\textit{γ}}
\addplot[gsc, forget plot] table[x=x, y=gL] {\scatterextra};
\addplot[gsc, forget plot] table[x=x, y=gL] {\scatterthird};
\addplot[nsc] table[x=x, y=nL] {\scatterdata};
\addlegendentry{\textit{n}}
\addplot[nsc, forget plot] table[x=x, y=nL] {\scatterextra};
\addplot[nsc, forget plot] table[x=x, y=nL] {\scatterthird};
\addplot[gmean] table[x=x, y=gbL] {\meandata};
\addlegendentry{\textit{γ̄}}
\addplot[nmean] table[x=x, y=nbL] {\meandata};
\addlegendentry{\textit{n̄}}
\end{axis}
\begin{axis}[panel, at={(474pt,59pt)}, anchor=south west, title={Axial alignment}]
\addplot[gsc] table[x=x, y=gR] {\scatterdata};
\addlegendentry{\textit{γ}}
\addplot[gsc, forget plot] table[x=x, y=gR] {\scatterextra};
\addplot[gsc, forget plot] table[x=x, y=gR] {\scatterthird};
\addplot[nsc] table[x=x, y=nR] {\scatterdata};
\addlegendentry{\textit{n}}
\addplot[nsc, forget plot] table[x=x, y=nR] {\scatterextra};
\addplot[nsc, forget plot] table[x=x, y=nR] {\scatterthird};
\addplot[gmean] table[x=x, y=gbR] {\meandata};
\addlegendentry{\textit{γ̄}}
\addplot[nmean] table[x=x, y=nbR] {\meandata};
\addlegendentry{\textit{n̄}}
\end{axis}
\end{tikzpicture}
\end{document}
